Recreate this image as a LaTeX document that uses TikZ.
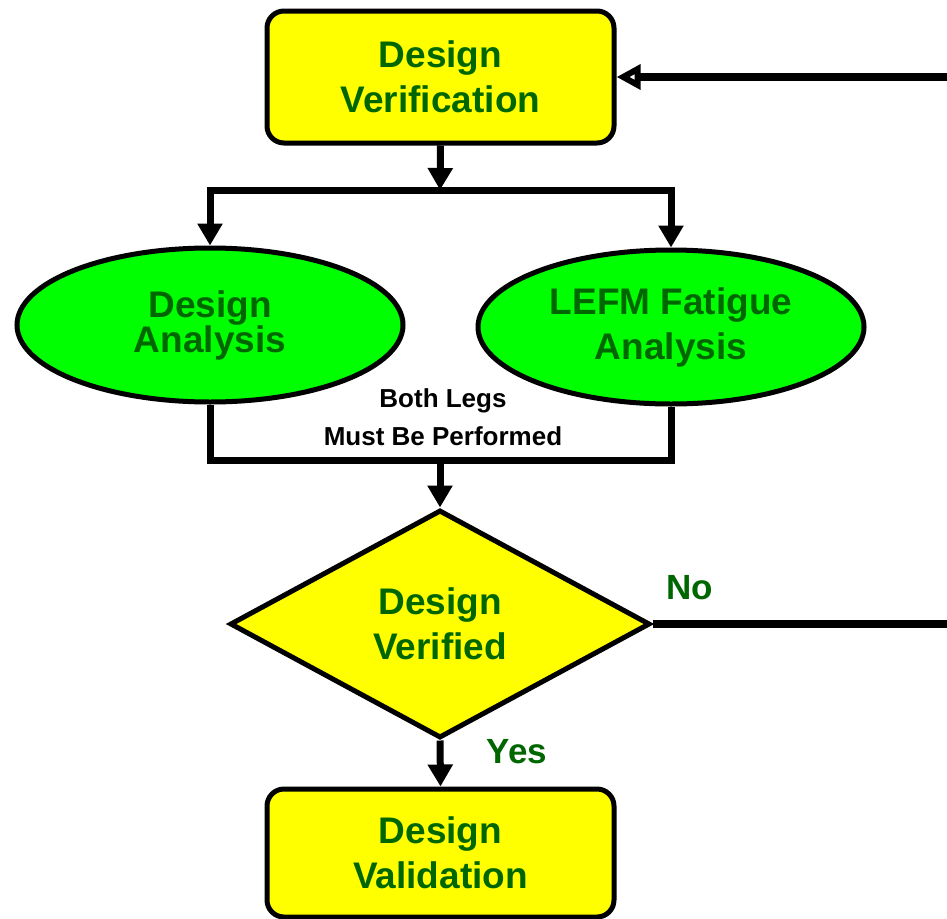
\documentclass[tikz,border=0pt]{standalone}
\usepackage{fontspec}
\setmainfont{Liberation Sans}
\usetikzlibrary{arrows.meta,shapes.geometric}
\definecolor{boxyellow}{RGB}{255,255,0}
\definecolor{leafgreen}{RGB}{0,255,0}
\definecolor{labelgreen}{RGB}{0,102,0}
\begin{document}
\begin{tikzpicture}[x=1pt,y=-1pt,
  every node/.style={font=\bfseries},
  bigtext/.style={text=labelgreen, align=center, font=\bfseries\fontsize{37}{45}\selectfont},
  stagebox/.style={bigtext, draw=black, line width=5pt, fill=boxyellow,
    rounded corners=17pt, minimum width=347pt, inner sep=0pt},
  studyoval/.style={bigtext, ellipse, draw=black, line width=5pt, fill=leafgreen,
    minimum width=386pt, minimum height=154pt, inner sep=0pt},
  checkdiamond/.style={bigtext, diamond, draw=black, line width=5pt, fill=boxyellow,
    minimum width=420pt, minimum height=228pt, inner sep=0pt, aspect=1.84},
  flow/.style={draw=black, line width=7pt, -{Triangle[length=22pt,width=24pt]}},
  link/.style={draw=black, line width=7pt},
  backflow/.style={draw=black, line width=8pt, -{Triangle[open,length=24pt,width=24pt]}},
  answer/.style={text=labelgreen, font=\bfseries\fontsize{35}{40}\selectfont},
  note/.style={text=black, font=\bfseries\fontsize{26}{30}\selectfont},
]
\useasboundingbox (0,0) rectangle (947,918);

% stages and checks
\node[stagebox, minimum height=132pt] (ver) at (440.5,77) {Design\\Verification};
\node[studyoval, font=\bfseries\fontsize{37}{35}\selectfont] (da) at (210,325) {Design\\Analysis};
\node[studyoval] (lefm) at (671,327) {LEFM Fatigue\\Analysis};
\node[checkdiamond] (dv) at (440,624) {Design\\Verified};
\node[stagebox, minimum height=128pt] (val) at (440.5,853) {Design\\Validation};

% junction points of the split and merge
\coordinate (split) at (440,190);
\coordinate (merge) at (440,460);
\coordinate (backturn) at (975,624);

% connectors
\draw[flow] (ver.south) -- (split);
\draw[flow] (split) -| (da.north);
\draw[flow] (split) -| (lefm.north);
\draw[link] (da.south) |- (merge) -| (lefm.south);
\draw[flow] (merge) -- (dv.north);
\draw[flow] (dv.south) -- (val.north);
\draw[backflow] (dv.east) -- (backturn) |- (ver.east);

% labels
\node[note] (both) at (443,401) {Both Legs};
\node[note] (must) at (443,436) {Must Be Performed};
\node[answer] (no) at (690,588) {No};
\node[answer] (yes) at (517,752) {Yes};
\end{tikzpicture}
\end{document}
